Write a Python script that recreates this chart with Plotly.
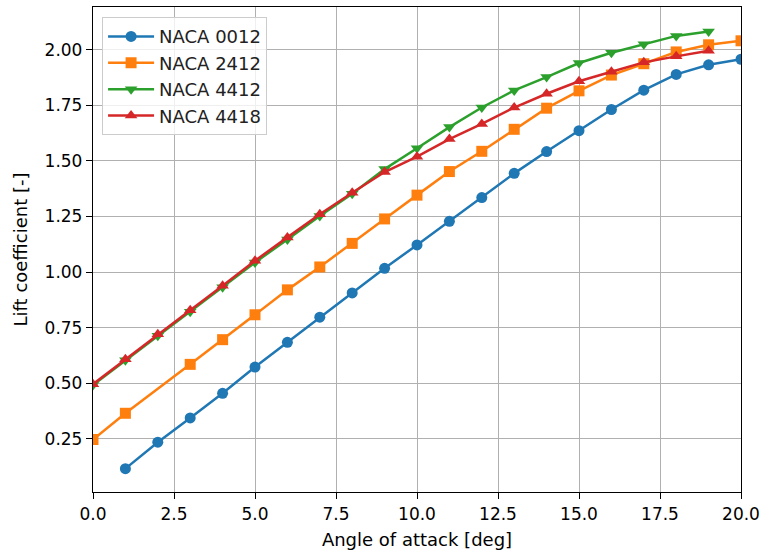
import plotly.graph_objects as go

# Data
alpha_0012 = [1, 2, 3, 4, 5, 6, 7, 8, 9, 10, 11, 12, 13, 14, 15, 16, 17, 18, 19, 20]
cl_0012 = [0.116, 0.235, 0.344, 0.455, 0.573, 0.684, 0.797, 0.906, 1.017, 1.122, 1.228, 1.335, 1.444, 1.542, 1.636, 1.731, 1.818, 1.889, 1.932, 1.957]

alpha_2412 = [0, 1, 3, 4, 5, 6, 7, 8, 9, 10, 11, 12, 13, 14, 15, 16, 17, 18, 19, 20]
cl_2412 = [0.247, 0.365, 0.585, 0.696, 0.808, 0.920, 1.023, 1.129, 1.239, 1.346, 1.452, 1.543, 1.642, 1.737, 1.815, 1.886, 1.937, 1.990, 2.022, 2.040]

alpha_4412 = [0, 1, 2, 3, 4, 5, 6, 7, 8, 9, 10, 11, 12, 13, 14, 15, 16, 17, 18, 19]
cl_4412 = [0.492, 0.603, 0.714, 0.822, 0.932, 1.043, 1.147, 1.252, 1.352, 1.463, 1.557, 1.652, 1.740, 1.817, 1.877, 1.940, 1.986, 2.025, 2.062, 2.082]

alpha_4418 = [0, 1, 2, 3, 4, 5, 6, 7, 8, 9, 10, 11, 12, 13, 14, 15, 16, 17, 18, 19]
cl_4418 = [0.496, 0.608, 0.720, 0.828, 0.939, 1.051, 1.156, 1.260, 1.357, 1.450, 1.519, 1.598, 1.666, 1.740, 1.802, 1.858, 1.901, 1.943, 1.970, 1.995]

series = [
    ("NACA 0012", alpha_0012, cl_0012, "#1f77b4", "circle"),
    ("NACA 2412", alpha_2412, cl_2412, "#ff7f0e", "square"),
    ("NACA 4412", alpha_4412, cl_4412, "#2ca02c", "triangle-down"),
    ("NACA 4418", alpha_4418, cl_4418, "#d62728", "triangle-up"),
]

x_ticks = [0, 2.5, 5, 7.5, 10, 12.5, 15, 17.5, 20]
y_ticks = [0.25, 0.5, 0.75, 1.0, 1.25, 1.5, 1.75, 2.0]

FONT = "DejaVu Sans"
FS = 17
FT = 18

fig = go.Figure()
for name, xs, ys, color, sym in series:
    fig.add_trace(go.Scatter(
        x=xs, y=ys, name=name, mode="lines+markers",
        line=dict(color=color, width=2.5),
        marker=dict(color=color, symbol=sym, size=11, line=dict(width=0)),
    ))

axis_common = dict(
    showline=True, mirror=True, linecolor="black", linewidth=1.3,
    ticks="outside", ticklen=6, tickwidth=1.3, tickcolor="black",
    showgrid=True, gridcolor="#b0b0b0", gridwidth=1.3,
    zeroline=False, automargin=False,
    tickfont=dict(family=FONT, size=FS, color="black"),
)

fig.update_xaxes(
    range=[0, 20], tickvals=x_ticks, ticktext=[f"{v:.1f}" for v in x_ticks],
    title=dict(text="Angle of attack [deg]", font=dict(family=FONT, size=FT, color="black"), standoff=10),
    **axis_common,
)
fig.update_yaxes(
    range=[0.011, 2.192], tickvals=y_ticks, ticktext=[f"{v:.2f}" for v in y_ticks],
    title=dict(text="Lift coefficient [-]", font=dict(family=FONT, size=FT, color="black"), standoff=12),
    **axis_common,
)

fig.update_layout(
    width=761, height=552,
    margin=dict(l=93, r=20, t=7, b=60),
    paper_bgcolor="white", plot_bgcolor="white",
    font=dict(family=FONT, size=FS, color="black"),
    legend=dict(
        x=0.014, y=0.979, xanchor="left", yanchor="top",
        bgcolor="rgba(255,255,255,0.8)", bordercolor="#cccccc", borderwidth=1,
        font=dict(family=FONT, size=FT, color="#222222"),
        itemwidth=46, tracegroupgap=0,
    ),
    showlegend=True,
)

fig.write_html("out.html")
